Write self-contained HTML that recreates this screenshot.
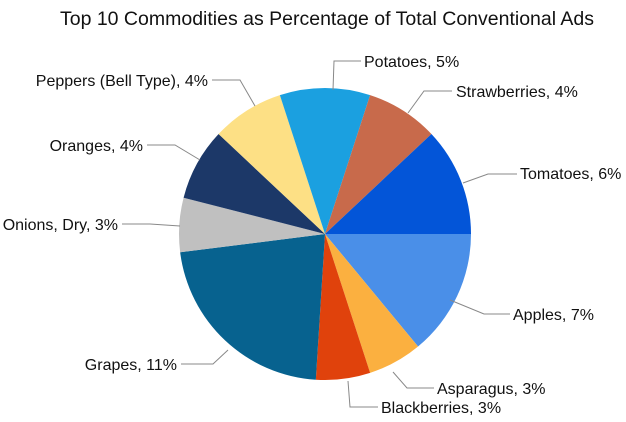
<!DOCTYPE html>
<html><head><meta charset="utf-8"><style>
html,body{margin:0;padding:0;background:#fff;}
svg text{font-family:"Liberation Sans",Arial,sans-serif;fill:#111;}
</style></head><body>
<svg id="s" width="626" height="417" viewBox="0 0 626 417" xmlns="http://www.w3.org/2000/svg">
<rect width="626" height="417" fill="#fff"/>
<text x="327" y="25" font-size="19.5" text-anchor="middle">Top 10 Commodities as Percentage of Total Conventional Ads</text>
<g id="pie"></g>
<g stroke="#888" stroke-width="1" fill="none">
<polyline points="463,183 488,174 517,174"/>
<polyline points="408,113 424,91 452,91"/>
<polyline points="333,90 334,61 361,61"/>
<polyline points="255,106 240,80 212,80"/>
<polyline points="200,160 175,145 147,145"/>
<polyline points="180,226 150,224 122,224"/>
<polyline points="228,350 213,364 181,364"/>
<polyline points="348,381 350,407 378,407"/>
<polyline points="393,372 407,388 434,388"/>
<polyline points="450,300 484,314 510,314"/>
</g>
<g font-size="16">
<text x="520" y="179">Tomatoes, 6%</text>
<text x="456" y="97">Strawberries, 4%</text>
<text x="364" y="67">Potatoes, 5%</text>
<text x="208" y="86" text-anchor="end">Peppers (Bell Type), 4%</text>
<text x="143" y="151" text-anchor="end">Oranges, 4%</text>
<text x="118" y="230" text-anchor="end">Onions, Dry, 3%</text>
<text x="177" y="370" text-anchor="end">Grapes, 11%</text>
<text x="381" y="413">Blackberries, 3%</text>
<text x="437" y="394">Asparagus, 3%</text>
<text x="513" y="320">Apples, 7%</text>
</g>
</svg>
<script>
var cx=325,cy=234,r=146;
var d=[[7,"#4a8fe8"],[3,"#fbb040"],[3,"#e0420c"],[11,"#07628f"],[3,"#c0c0c0"],[4,"#1c3868"],[4,"#fde085"],[5,"#1ba0e0"],[4,"#c86a4b"],[6,"#0355d8"]];
var a=0,g=document.getElementById("pie"),h="";
d.forEach(function(s){var b=a+s[0]/50*2*Math.PI;
var x1=cx+r*Math.cos(a),y1=cy+r*Math.sin(a),x2=cx+r*Math.cos(b),y2=cy+r*Math.sin(b);
h+='<path d="M'+cx+','+cy+'L'+x1+','+y1+'A'+r+','+r+' 0 '+((b-a)>Math.PI?1:0)+' 1 '+x2+','+y2+'Z" fill="'+s[1]+'"/>';a=b;});
g.innerHTML=h;
</script>
</body></html>
